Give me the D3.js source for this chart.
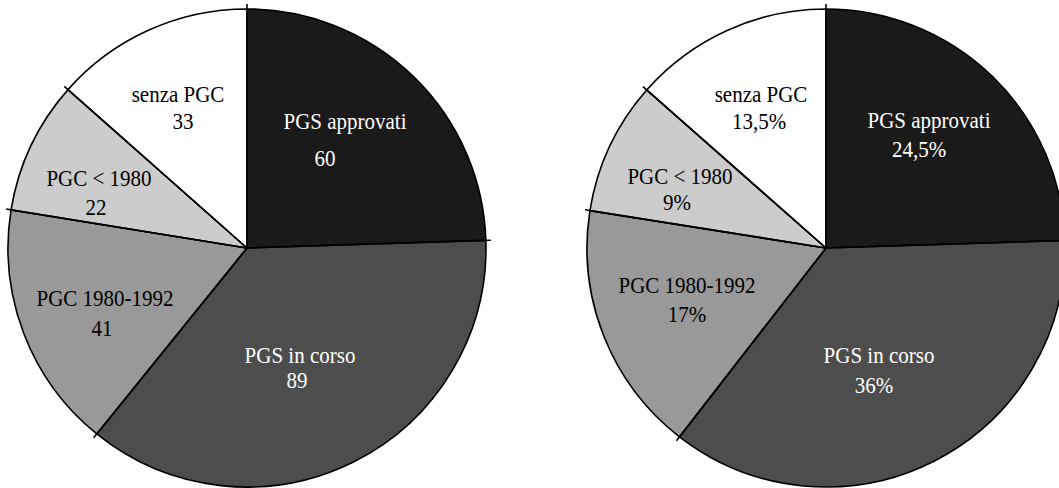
<!DOCTYPE html>
<html>
<head>
<meta charset="utf-8">
<script src="https://cdn.jsdelivr.net/npm/d3@7"></script>
<style>
  body { margin: 0; background: #fff; }
  svg { display: block; }
</style>
</head>
<body>
<svg id="vis" width="1059" height="488"></svg>
<script>
// categories, clockwise from 12 o'clock
const categories = ['PGS approvati', 'PGS in corso', 'PGC 1980-1992', 'PGC < 1980', 'senza PGC'];
const counts = [60, 89, 41, 22, 33];
const percents = [24.5, 36, 17, 9, 13.5];
const countLabels = ['60', '89', '41', '22', '33'];
const percentLabels = ['24,5%', '36%', '17%', '9%', '13,5%'];
const fills = ['#1a1a1a', '#4d4d4d', '#999999', '#cccccc', '#ffffff'];
const textFills = ['#fff', '#fff', '#000', '#000', '#000'];

// label offsets from the pie centre: [name dx, name dy, value dx, value dy]
const leftLabelPos = [[98, -119, 78, -82], [53, 115, 50, 140], [-142, 58, -145, 88], [-148, -62, -151, -33], [-69, -146, -64, -119]];
const rightLabelPos = [[103, -120, 93, -91], [53, 115, 48, 145], [-139, 45, -139, 74], [-146, -64, -149, -38], [-65, -146, -67, -119]];

const radius = 239;
const svg = d3.select('#vis');

function drawPie(cx, cy, values, valueLabels, labelPos) {
    var g = svg.append('g')
        .attr('transform', 'translate(' + cx + ', ' + cy + ')');

    var pie = d3.pie().sort(null).value((d) => d);
    var arcs = pie(values);
    var arc = d3.arc().innerRadius(0).outerRadius(radius);

    g.selectAll('path')
        .data(arcs)
        .enter()
        .append('path')
        .attr('d', arc)
        .attr('fill', (d, i) => fills[i])
        .attr('stroke', '#000')
        .attr('stroke-width', 1.6)
        .attr('stroke-linejoin', 'round');

    // small overshoot of slice borders past the rim
    g.selectAll('line.edge')
        .data(arcs)
        .enter()
        .append('line')
        .attr('class', 'edge')
        .attr('x1', 0)
        .attr('y1', 0)
        .attr('x2', (d) => Math.sin(d.startAngle) * (radius + 5))
        .attr('y2', (d) => -Math.cos(d.startAngle) * (radius + 5))
        .attr('stroke', '#000')
        .attr('stroke-width', 1.6);

    var labels = g.selectAll('g.label')
        .data(arcs)
        .enter()
        .append('g')
        .attr('class', 'label')
        .attr('font-family', '"Liberation Serif", "DejaVu Serif", serif')
        .attr('font-size', '24px')
        .attr('text-anchor', 'middle')
        .attr('fill', (d, i) => textFills[i]);

    // the original type is a little narrow and tall
    labels.append('text')
        .attr('transform', (d, i) => 'translate(' + labelPos[i][0] + ', ' + labelPos[i][1] + ') scale(0.875, 1)')
        .text((d, i) => categories[i]);

    labels.append('text')
        .attr('transform', (d, i) => 'translate(' + labelPos[i][2] + ', ' + labelPos[i][3] + ') scale(0.875, 1)')
        .text((d, i) => valueLabels[i]);
}

drawPie(247, 248, counts, countLabels, leftLabelPos);
drawPie(826, 248, percents, percentLabels, rightLabelPos);
</script>
</body>
</html>
